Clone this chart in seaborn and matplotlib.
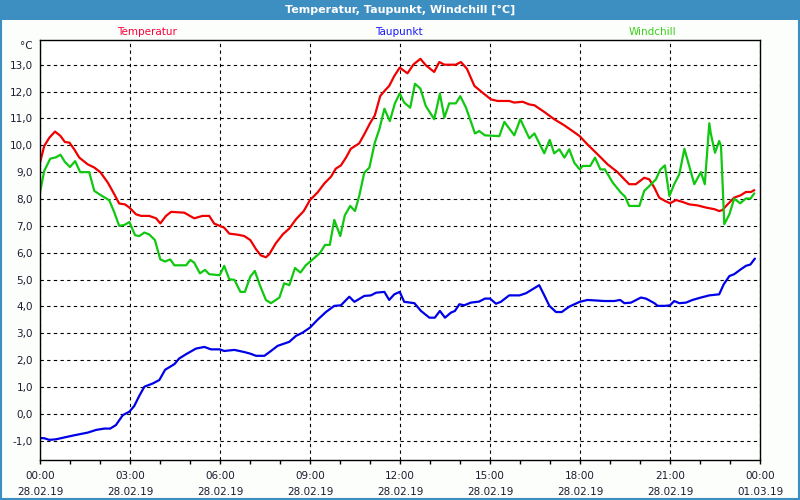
import numpy as np
import pandas as pd
import seaborn as sns
import matplotlib.pyplot as plt
from matplotlib.patches import Rectangle
from matplotlib.ticker import MultipleLocator

# hours since 28.02.19 00:00
temp_t = [0.0, 0.14, 0.31, 0.5, 0.68, 0.83, 0.98, 1.14, 1.31, 1.59,
          1.81, 2.01, 2.26, 2.48, 2.64, 2.83, 2.98, 3.2, 3.37, 3.64,
          3.87, 4.01, 4.2, 4.37, 4.81, 5.14, 5.42, 5.64, 5.81, 5.99,
          6.14, 6.31, 6.59, 6.81, 7.01, 7.2, 7.36, 7.53, 7.64, 7.86,
          8.09, 8.31, 8.53, 8.79, 9.0, 9.25, 9.48, 9.7, 9.86, 10.03,
          10.2, 10.36, 10.64, 10.81, 11.01, 11.16, 11.34, 11.48, 11.64, 11.81,
          11.99, 12.25, 12.45, 12.68, 12.86, 13.14, 13.31, 13.48, 13.86, 14.03,
          14.23, 14.48, 14.75, 15.03, 15.25, 15.64, 15.81, 16.09, 16.31, 16.48,
          16.81, 17.14, 17.48, 17.75, 17.99, 18.25, 18.59, 18.92, 19.25, 19.48,
          19.64, 19.86, 20.14, 20.31, 20.48, 20.64, 20.83, 21.0, 21.2, 21.42,
          21.64, 21.92, 22.2, 22.48, 22.64, 22.75, 22.92, 23.14, 23.36, 23.53,
          23.7, 23.81]
temp_v = [9.35, 9.97, 10.28, 10.51, 10.35, 10.12, 10.1, 9.85, 9.54, 9.29,
          9.17, 9.0, 8.61, 8.17, 7.83, 7.8, 7.68, 7.43, 7.37, 7.37,
          7.28, 7.09, 7.37, 7.52, 7.49, 7.28, 7.37, 7.37, 7.08, 7.0,
          6.93, 6.71, 6.67, 6.62, 6.47, 6.13, 5.9, 5.83, 5.94, 6.35,
          6.68, 6.9, 7.24, 7.55, 7.96, 8.24, 8.58, 8.83, 9.13, 9.25,
          9.54, 9.87, 10.07, 10.41, 10.84, 11.11, 11.83, 12.02, 12.21, 12.58,
          12.89, 12.68, 13.01, 13.22, 12.98, 12.73, 13.1, 13.0, 13.0, 13.1,
          12.85, 12.21, 11.96, 11.71, 11.65, 11.65, 11.59, 11.62, 11.52, 11.49,
          11.24, 10.97, 10.74, 10.53, 10.34, 10.03, 9.66, 9.29, 9.0, 8.73,
          8.55, 8.55, 8.79, 8.73, 8.42, 8.05, 7.93, 7.84, 7.96, 7.89,
          7.8, 7.76, 7.68, 7.62, 7.55, 7.59, 7.8, 8.05, 8.14, 8.26,
          8.26, 8.33]

dew_t = [0.0, 0.14, 0.31, 0.53, 0.81, 1.14, 1.59, 1.87, 2.14, 2.34,
         2.53, 2.76, 2.98, 3.14, 3.31, 3.48, 3.76, 3.98, 4.17, 4.48,
         4.64, 4.87, 5.2, 5.48, 5.7, 5.99,
         6.14, 6.48, 6.81, 7.01, 7.2, 7.48, 7.7, 7.92, 8.31, 8.53,
         8.75, 9.0, 9.25, 9.53, 9.81, 10.03, 10.31, 10.48, 10.81, 11.03,
         11.2, 11.48, 11.64, 11.81, 11.99,
         12.14, 12.48, 12.7, 12.98, 13.16, 13.33, 13.5, 13.7, 13.83, 13.98,
         14.14, 14.36, 14.64, 14.83, 15.0, 15.2, 15.36, 15.64, 15.98, 16.2,
         16.42, 16.64, 16.81, 16.98, 17.2, 17.39, 17.64, 17.99,
         18.25, 18.81, 19.14, 19.34, 19.48, 19.7, 20.03, 20.2, 20.48, 20.59,
         20.83, 21.0, 21.14, 21.31, 21.53, 21.75, 22.03, 22.31, 22.64, 22.79,
         22.98, 23.14, 23.36, 23.53, 23.68, 23.83]
dew_v = [-0.9, -0.91, -0.97, -0.95, -0.88, -0.8, -0.7, -0.6, -0.55, -0.55,
         -0.42, -0.05, 0.08, 0.29, 0.67, 1.01, 1.13, 1.26, 1.64, 1.85,
         2.06, 2.22, 2.43, 2.49, 2.4, 2.4,
         2.34, 2.38, 2.3, 2.24, 2.16, 2.16, 2.34, 2.53, 2.68, 2.9,
         3.02, 3.21, 3.5, 3.79, 4.02, 4.04, 4.36, 4.17, 4.39, 4.41,
         4.51, 4.54, 4.24, 4.45, 4.54,
         4.17, 4.12, 3.83, 3.58, 3.58, 3.83, 3.58, 3.77, 3.83, 4.08,
         4.04, 4.14, 4.18, 4.29, 4.29, 4.1, 4.17, 4.41, 4.41, 4.49,
         4.64, 4.79, 4.41, 4.02, 3.79, 3.79, 3.99, 4.17,
         4.24, 4.2, 4.2, 4.24, 4.12, 4.14, 4.33, 4.29, 4.12, 4.02,
         4.02, 4.04, 4.2, 4.12, 4.14, 4.24, 4.33, 4.41, 4.45, 4.82,
         5.13, 5.2, 5.38, 5.51, 5.56, 5.78]

chill_t = [0.0, 0.14, 0.34, 0.53, 0.68, 0.83, 1.0, 1.17, 1.34, 1.64,
           1.81, 2.03, 2.31, 2.48, 2.64, 2.81, 2.98, 3.17, 3.31, 3.48,
           3.64, 3.83, 4.01, 4.17, 4.34, 4.48, 4.87, 5.01, 5.14, 5.33,
           5.5, 5.64, 5.99,
           6.14, 6.31, 6.48, 6.68, 6.83, 7.01, 7.16, 7.34, 7.53, 7.7,
           7.98, 8.14, 8.31, 8.5, 8.68, 8.86, 9.09, 9.34, 9.5, 9.66,
           9.81, 10.01, 10.16, 10.34, 10.5, 10.64, 10.81, 10.98, 11.16, 11.31,
           11.48, 11.66, 11.83, 11.99,
           12.14, 12.34, 12.5, 12.68, 12.86, 13.14, 13.33, 13.48, 13.64, 13.86,
           14.01, 14.2, 14.5, 14.64, 14.83, 15.31, 15.48, 15.81, 16.01, 16.31,
           16.48, 16.81, 16.99, 17.14, 17.31, 17.48, 17.64, 17.81, 17.99,
           18.09, 18.34, 18.5, 18.68, 18.83, 19.09, 19.36, 19.5, 19.64, 19.98,
           20.14, 20.31, 20.53, 20.68, 20.83, 20.98, 21.14, 21.31, 21.48, 21.81,
           22.03, 22.16, 22.31, 22.36, 22.5, 22.64, 22.7, 22.81, 22.98, 23.14,
           23.34, 23.53, 23.68, 23.81]
chill_v = [8.24, 9.04, 9.5, 9.55, 9.65, 9.38, 9.19, 9.41, 9.0, 9.0,
           8.3, 8.14, 7.95, 7.49, 7.0, 7.03, 7.14, 6.65, 6.62, 6.75,
           6.68, 6.47, 5.75, 5.67, 5.75, 5.53, 5.53, 5.73, 5.63, 5.23,
           5.36, 5.2, 5.16,
           5.51, 5.01, 4.99, 4.54, 4.54, 5.11, 5.32, 4.76, 4.24, 4.12,
           4.33, 4.86, 4.79, 5.43, 5.26, 5.53, 5.75, 6.0, 6.29, 6.29,
           7.22, 6.62, 7.39, 7.74, 7.55, 8.11, 8.98, 9.17, 10.1, 10.59,
           11.36, 10.9, 11.56, 11.93,
           11.59, 11.4, 12.29, 12.11, 11.46, 10.97, 11.92, 11.03, 11.56, 11.56,
           11.83, 11.4, 10.44, 10.53, 10.37, 10.34, 10.87, 10.37, 10.97, 10.26,
           10.44, 9.7, 10.2, 9.7, 9.85, 9.54, 9.85, 9.35, 9.1,
           9.23, 9.23, 9.54, 9.1, 9.1, 8.61, 8.24, 8.09, 7.74, 7.74,
           8.3, 8.48, 8.73, 9.1, 9.25, 8.11, 8.55, 8.92, 9.87, 8.55,
           9.0, 8.55, 10.82, 10.44, 9.72, 10.16, 9.97, 7.06, 7.43, 8.01,
           7.84, 8.02, 8.01, 8.21]

series_names = ['Temperatur', 'Taupunkt', 'Windchill']
line_colors = ['#f00000', '#0000e8', '#10c810']
label_colors = ['#ff0038', '#1818ff', '#38d018']
hour_ticks = list(range(0, 25, 3))
tick_dates = ['28.02.19'] * 8 + ['01.03.19']
y_ticks = list(range(-1, 14))

frames = [pd.DataFrame({'h': temp_t, 'v': temp_v}),
          pd.DataFrame({'h': dew_t, 'v': dew_v}),
          pd.DataFrame({'h': chill_t, 'v': chill_v})]

sns.set_style('white')
plt.rcParams['font.family'] = ['DejaVu Sans']

fig = plt.figure(figsize=(8, 5), dpi=100)
fig.patch.set_facecolor('#fcfefc')
frame_blue = '#3d8fc2'
fig.patches.append(Rectangle((0, 0.96), 1, 0.04, transform=fig.transFigure,
                             facecolor=frame_blue, edgecolor='none', zorder=0))
fig.patches.append(Rectangle((0.0012, 0.002), 0.9976, 0.996, transform=fig.transFigure,
                             facecolor='none', edgecolor=frame_blue, lw=1.5, zorder=0))
fig.text(0.5, 0.98, 'Temperatur, Taupunkt, Windchill [°C]', color='white',
         fontsize=8, fontweight='bold', ha='center', va='center')

ax = fig.add_axes([0.05, 0.08, 0.9, 0.84])
ax.set_facecolor('white')
for df, col in zip(frames, line_colors):
    sns.lineplot(data=df, x='h', y='v', color=col, lw=1.6, ax=ax,
                 estimator=None, sort=False)

ax.set_xlim(0, 24)
ax.set_ylim(-1.72, 13.92)
ax.set_xticks(hour_ticks)
ax.set_xticklabels([f'{h % 24:02d}:00\n{d}' for h, d in zip(hour_ticks, tick_dates)],
                   linespacing=1.75)
ax.xaxis.set_minor_locator(MultipleLocator(1))
ax.set_yticks(y_ticks)
ax.set_yticklabels([f'{v},0' for v in y_ticks])
ax.tick_params(axis='x', which='both', direction='out', length=3, width=1,
               color='black', pad=5, labelsize=7.5, labelcolor='#1c1c30', bottom=True)
ax.tick_params(axis='y', length=0, pad=5, labelsize=7.5, labelcolor='#1c1c30')
ax.grid(True, which='major', color='black', lw=0.8, ls=(0, (3, 3)))
for sp in ax.spines.values():
    sp.set_visible(True)
    sp.set_color('black')
    sp.set_linewidth(1)
ax.set_xlabel('')
ax.set_ylabel('')

fig.text(33 / 800, 1 - 46 / 500, '°C', fontsize=7.5, color='#1c1c30', ha='right', va='center')
for name, col, xp in zip(series_names, label_colors, [147, 399, 652]):
    fig.text(xp / 800, 1 - 32 / 500, name, color=col, fontsize=7.5, ha='center', va='center')

fig.savefig('out.png', dpi=100, facecolor=fig.get_facecolor())
